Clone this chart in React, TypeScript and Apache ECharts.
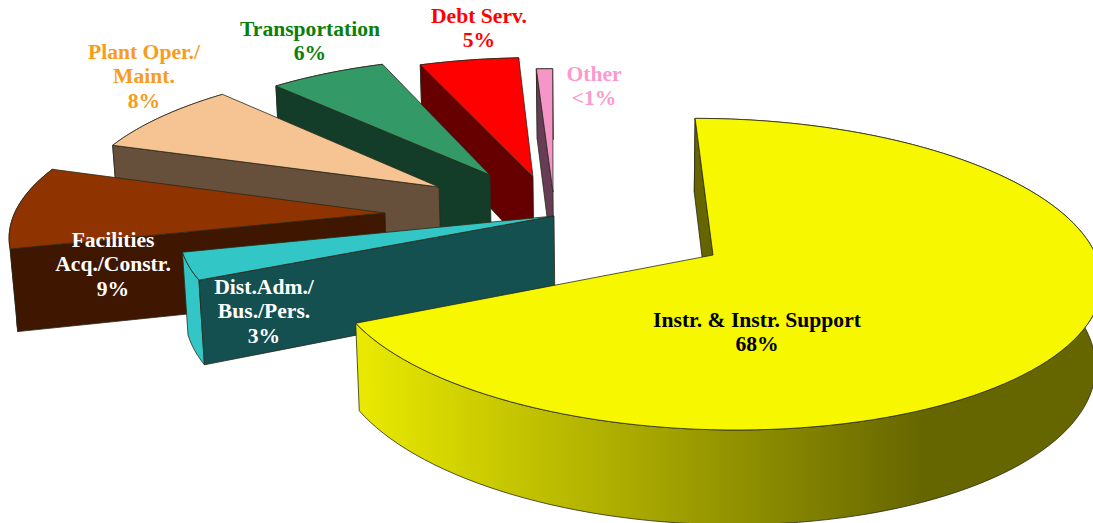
import React, { useEffect, useRef } from "react";
import * as echarts from "echarts";

const categories = ["Instr. & Instr. Support", "Dist.Adm./\nBus./Pers.", "Facilities\nAcq./Constr.", "Plant Oper./\nMaint.", "Transportation", "Debt Serv.", "Other"];
const percentLabels = ["68%", "3%", "9%", "8%", "6%", "5%", "<1%"];
const values = [67.8, 3, 9, 8, 6, 5, 0.8];
// How far each slice is pulled out of the pie, in units of the pie's radius
const explodeX = [0, -0.417, -0.876, -0.7359, -0.5961, -0.4754, -0.4195];
const explodeY = [0, -0.2637, -0.2846, -0.471, -0.5598, -0.5451, -0.4345];
// Radius of each slice relative to the pie (the perspective of the original varies a little)
const radii = [1.005, 1.008, 1.006, 1.002, 0.98, 0.99, 1];
const topColors = ["#f7f700", "#33c6c6", "#8f3300", "#f6c492", "#339966", "#ff0000", "#f695c8"];
const wallColors = ["#666600", "#145050", "#3f1600", "#66503c", "#143d29", "#660000", "#663d55"];
const labelColors = ["#000000", "#ffffff", "#ffffff", "#f99b1c", "#0a800a", "#ff0000", "#ff99cc"];
const labelX = [757, 264, 113, 144, 310, 479, 594];
const labelY = [332, 311, 264, 76, 41, 28, 86];

// Camera of the tilted pie (a perspective projection of the plane of the pie)
const CAM = { x0: 713, y0: 255, B: 381, C: 20, A: 152.7, k: 0.1226, D: 83, vpX: 620, vpY: 6500 };

type P = [number, number];
const top = (X: number, Y: number): P => {
  const w = 1 - CAM.k * Y;
  return [CAM.x0 + (CAM.B * X + CAM.C * Y) / w, CAM.y0 + (CAM.A * Y) / w];
};
const bottom = (X: number, Y: number): P => {
  const w = 1 - CAM.k * Y;
  const [sx, sy] = top(X, Y);
  const dy = CAM.D / w;
  return [sx + ((CAM.vpX - sx) / CAM.vpY) * dy, sy + dy];
};

const total = values.reduce((a, b) => a + b, 0);
const slices = (() => {
  let acc = 0;
  return values.map((v, i) => {
    const start = (acc / total) * Math.PI * 2;
    acc += v;
    const end = (acc / total) * Math.PI * 2;
    return { i, start, end, ax: explodeX[i], ay: explodeY[i], r: radii[i] };
  });
})();

const renderSlice = (_: any, api: any) => {
  const s = slices[api.value(0)];
  const i = s.i;
  const n = Math.max(4, Math.ceil((s.end - s.start) / (Math.PI / 90)));
  const rimW: [number, number][] = [];
  for (let j = 0; j <= n; j++) {
    const a = s.start + ((s.end - s.start) * j) / n;
    rimW.push([s.ax + s.r * Math.sin(a), s.ay - s.r * Math.cos(a)]);
  }
  const topRim = rimW.map(([x, y]) => top(x, y));
  const botRim = rimW.map(([x, y]) => bottom(x, y));
  const stroke = "#2a2a1a";
  const rimFill =
    i === 0
      ? new echarts.graphic.LinearGradient(0, 0, 1, 0, [
          { offset: 0, color: "#eaea00" },
          { offset: 0.76, color: "#666600" },
          { offset: 1, color: "#666600" },
        ])
      : topColors[i];
  const first = rimW[0];
  return {
    type: "group",
    children: [
      {
        type: "polygon",
        shape: { points: [...topRim, ...botRim.slice().reverse()] },
        style: { fill: rimFill, stroke, lineWidth: 0.8 },
      },
      {
        type: "polygon",
        shape: { points: [top(first[0], first[1]), top(s.ax, s.ay), bottom(s.ax, s.ay), bottom(first[0], first[1])] },
        style: { fill: wallColors[i], stroke, lineWidth: 0.8 },
      },
      {
        type: "polygon",
        shape: { points: [top(s.ax, s.ay), ...topRim] },
        style: { fill: topColors[i], stroke, lineWidth: 0.8 },
      },
    ],
  };
};

const drawOrder = [6, 5, 4, 3, 2, 1, 0];

export default function App() {
  const ref = useRef<HTMLDivElement>(null);
  useEffect(() => {
    document.body.style.margin = "0";
    document.body.style.background = "#ffffff";
    const chart = echarts.init(ref.current!, undefined, { renderer: "svg" });
    chart.setOption({
      animation: false,
      backgroundColor: "#ffffff",
      series: [
        {
          type: "custom",
          coordinateSystem: "none",
          silent: true,
          clip: false,
          renderItem: renderSlice,
          data: drawOrder.map((i) => [i, values[i]]),
        },
      ],
      graphic: categories.map((c, i) => ({
        type: "text",
        z: 100,
        x: labelX[i],
        y: labelY[i],
        style: {
          text: `${c}\n${percentLabels[i]}`,
          fill: labelColors[i],
          font: 'bold 21.6px "Liberation Serif", serif',
          lineHeight: 24.5,
          align: "center",
          verticalAlign: "middle",
        },
      })),
    });
    return () => chart.dispose();
  }, []);
  return <div ref={ref} style={{ width: 1093, height: 523, overflow: "hidden" }} />;
}
